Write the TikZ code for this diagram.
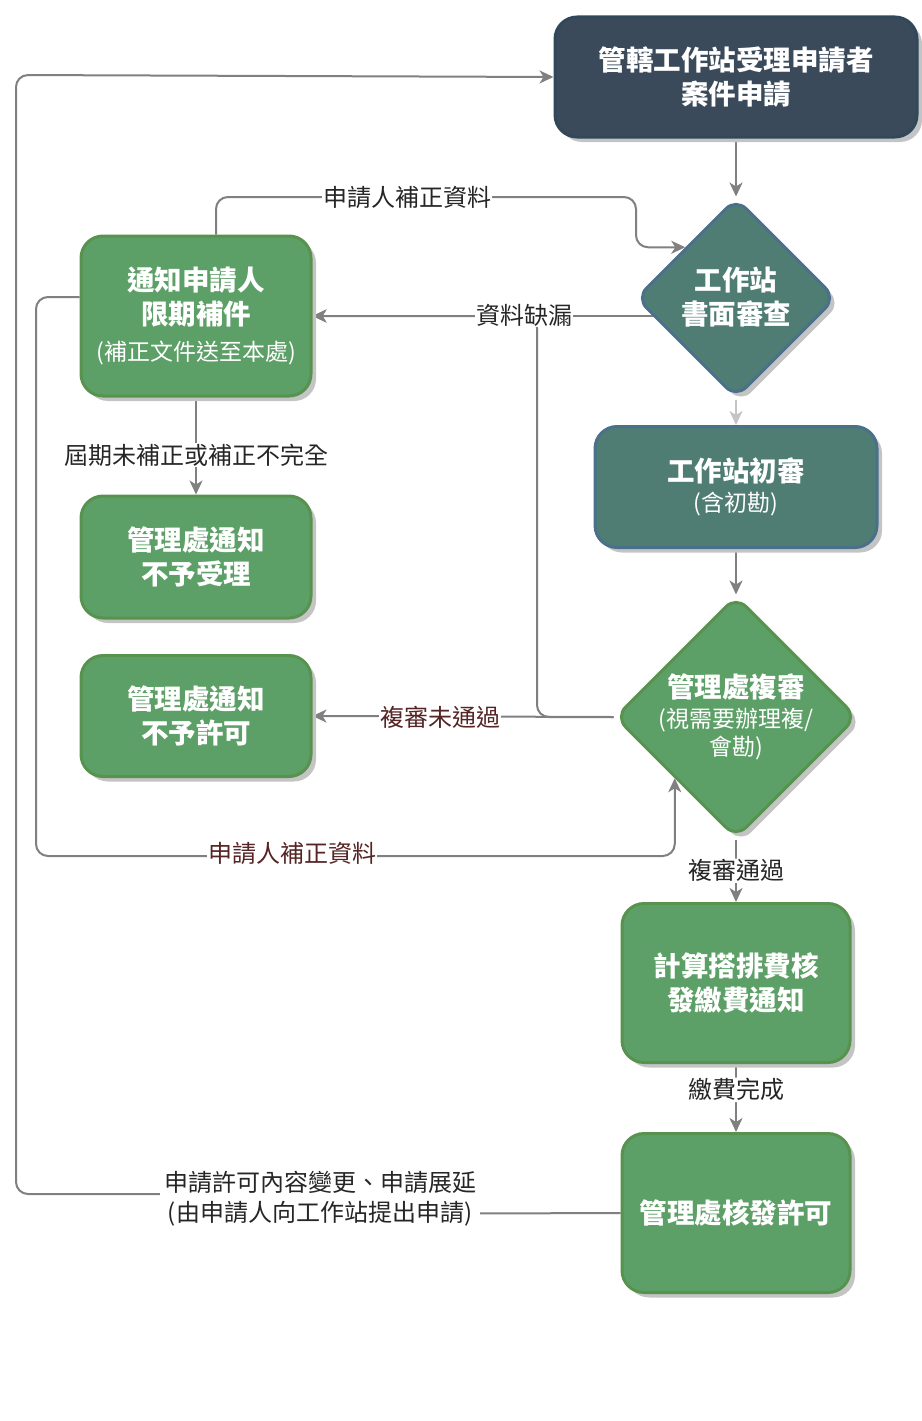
\documentclass[tikz,border=0pt]{standalone}
\usepackage{fontspec}
\setmainfont{Noto Sans CJK TC}
\usetikzlibrary{shapes.geometric,arrows.meta,shadows,backgrounds}
\definecolor{slatefill}{HTML}{3B4A5B}
\definecolor{slateedge}{HTML}{30485A}
\definecolor{tealfill}{HTML}{4F7D73}
\definecolor{tealedge}{HTML}{4A708A}
\definecolor{greenfill}{HTML}{5DA067}
\definecolor{greenedge}{HTML}{58924F}
\definecolor{shadowgray}{HTML}{C4C4C4}
\definecolor{linegray}{HTML}{808080}
\definecolor{labelred}{HTML}{552424}
\newcommand\subline[1]{{\mdseries\fontsize{23}{30}\selectfont #1}}
\begin{document}
\begin{tikzpicture}[x=1pt,y=-1pt,
    box/.style={draw, line width=3pt, rounded corners=22pt, text=white, align=center,
        font=\bfseries\fontsize{27.5}{34}\selectfont,
        drop shadow={shadow xshift=5pt, shadow yshift=-5pt, fill=shadowgray, opacity=1}},
    decision/.style={box, shape=diamond, aspect=1, inner sep=0pt, rounded corners=14pt},
    inside/.style={text=white, align=center, font=\bfseries\fontsize{27.5}{34}\selectfont},
    conn/.style={draw=linegray, line width=2pt, rounded corners=12pt},
    arr/.style={conn, -{Stealth[length=14pt, width=13pt, inset=4pt]}},
    lbl/.style={fill=white, inner sep=1pt, font=\fontsize{24}{30}\selectfont, text=black!85}]
    \useasboundingbox (0,0) rectangle (921,1421);

    % right column
    \node (apply) [box, fill=slatefill, draw=slateedge, minimum width=362pt, minimum height=120pt] at (736,77) {管轄工作站受理申請者\\案件申請};
    \node (paper) [decision, fill=tealfill, draw=tealedge, minimum width=200pt, minimum height=200pt] at (736,298) {};
    \node (papertxt) [inside] at (736,297) {工作站\\書面審查};
    \node (first) [box, fill=tealfill, draw=tealedge, minimum width=282pt, minimum height=121pt] at (736,487) {工作站初審\\[-4pt]\subline{(含初勘)}};
    \node (second) [decision, fill=greenfill, draw=greenedge, minimum width=242pt, minimum height=242pt] at (736,717) {};
    \node (secondtxt) [inside] at (736,717) {管理處複審\\[-4pt]\subline{(視需要辦理複/}\\[-6pt]\subline{會勘)}};
    \node (fee) [box, fill=greenfill, draw=greenedge, minimum width=228pt, minimum height=159pt] at (736,983) {計算搭排費核\\發繳費通知};
    \node (permit) [box, fill=greenfill, draw=greenedge, minimum width=228pt, minimum height=159pt] at (736,1213) {管理處核發許可};

    % left column
    \node (notify) [box, fill=greenfill, draw=greenedge, minimum width=230pt, minimum height=160pt] at (196,316) {通知申請人\\限期補件\\[2pt]\subline{(補正文件送至本處)}};
    \node (reject) [box, fill=greenfill, draw=greenedge, minimum width=230pt, minimum height=122pt] at (196,557) {管理處通知\\不予受理};
    \node (refuse) [box, fill=greenfill, draw=greenedge, minimum width=230pt, minimum height=121pt] at (196,716) {管理處通知\\不予許可};

    \begin{scope}[on background layer]
        \draw[arr] (apply) -- (paper);
        \draw[arr, draw=shadowgray] (paper) -- (first);
        \draw[arr] (first) -- (second);
        \draw[arr] (second) -- node (passed) [lbl] {複審通過} (fee);
        \draw[arr] (fee) -- node (paid) [lbl, pos=0.38] {繳費完成} (permit);

        \draw[arr] (paper.center |- notify.east) -- (notify.east);
        \draw[arr] (second.west) -- (537,717) -- (537,316) -- (notify.east);
        \draw[arr] (second.west) -- (refuse.east);
        \draw[arr] (notify) -- (reject);

        \draw[arr] ([xshift=20pt]notify.north) |- (636,197) |- (paper.north west);
        \draw[arr] ([yshift=19pt]notify.west) -| (36,856) -| (second.south west);

        \draw[arr] (permit.west) -- (322,1214) -- (322,1194) -- (16,1194) -- (16,75) -- (apply.west);
    \end{scope}

    \node (missing) [lbl] at (524,315) {資料缺漏};
    \node (notpassed) [lbl, text=labelred] at (440,717) {複審未通過};
    \node (resubmit) [lbl] at (407,197) {申請人補正資料};
    \node (resubmit2) [lbl, text=labelred] at (292,853) {申請人補正資料};
    \node (overdue) [lbl] at (196,455) {屆期未補正或補正不完全};
    \node (change) [lbl, align=center, inner sep=4pt] at (320,1199) {申請許可內容變更、申請展延\\(由申請人向工作站提出申請)};
\end{tikzpicture}
\end{document}
